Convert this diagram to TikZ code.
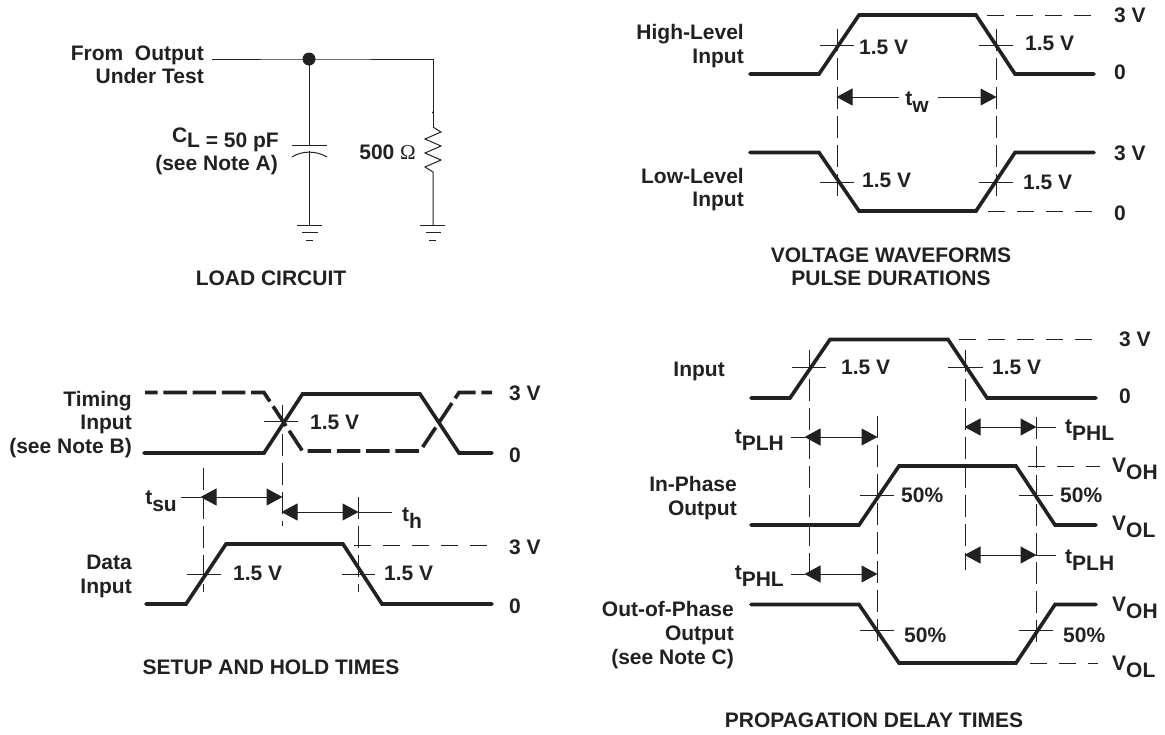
\documentclass[tikz,border=0pt]{standalone}
\usepackage{fontspec}
\setmainfont{Liberation Sans}
\newfontfamily\omegafont{Liberation Serif}
\usetikzlibrary{arrows.meta}
\definecolor{inkc}{gray}{0.13}
\newcommand{\lowered}[2]{#1\raisebox{-7pt}{#2}}
\tikzset{
  lab/.style={inner sep=0pt,text height=15pt,text depth=0pt,text=inkc,font=\fontsize{21}{21}\selectfont\bfseries},
  wave/.style={line width=3.6pt,draw=inkc,line join=miter,line cap=round},
  wavedash/.style={wave,line cap=butt,dash pattern=on 23.5pt off 5.8pt,dash phase=11pt},
  thin line/.style={line width=1pt,draw=inkc},
  guide/.style={line width=0.9pt,draw=inkc,dash pattern=on 22pt off 7pt},
  level/.style={line width=0.9pt,draw=inkc,dash pattern=on 17pt off 12pt},
  span/.style={line width=1pt,draw=inkc,{Triangle[length=16pt,width=17pt]}-{Triangle[length=16pt,width=17pt]},shorten <=-0.5pt,shorten >=-0.5pt}
}
\begin{document}
\begin{tikzpicture}[x=1pt,y=-1pt]
  \useasboundingbox (0,0) rectangle (1165,734);
  % load circuit
  \coordinate (wirein) at (212,59);
  \coordinate (junction) at (309,59);
  \coordinate (corner) at (433,59);
  \coordinate (rtop) at (433,127);
  \coordinate (rbot) at (433,172);
  \coordinate (gndr) at (433,225);
  \coordinate (platea) at (309,145);
  \coordinate (plateb) at (309,151);
  \coordinate (gndc) at (309,225);
  \draw[thin line] (wirein) -- (junction) -- (corner) -- (rtop);
  \draw[thin line] (junction) -- (platea);
  \draw[thin line] (plateb) -- (gndc);
  \draw[thin line] (292,145) -- (327,145);
  \draw[thin line] (292,157) .. controls (302,150.5) and (316,150.5) .. (327,157);
  \draw[thin line] (rtop) -- (441,132) -- (425,139) -- (441,146) -- (425,153) -- (441,160) -- (425,167) -- (rbot) -- (gndr);
  \draw[fill=inkc,draw=none] (junction) circle (6.5);
  \draw[fill=inkc,draw=none] (433,112.5) circle (1.2);
  % grounds
  \draw[thin line] (297,225) -- (322,225);
  \draw[thin line] (302,232.5) -- (318,232.5);
  \draw[thin line] (306,240) -- (313,240);
  \draw[thin line] (420,225) -- (445,225);
  \draw[thin line] (426,232.5) -- (441,232.5);
  \draw[thin line] (429,240) -- (436,240);
  \node[lab,anchor=east] (fromlab) at (204,53) {From\ \ Output};
  \node[lab,anchor=east] (undertest) at (204,76) {Under Test};
  \node[lab,anchor=east] (cload) at (279,135) {\raisebox{0pt}{C}\raisebox{-5pt}{L = 50 pF}};
  \node[lab,anchor=east] (noteA) at (278,163) {(see Note A)};
  \node[lab,anchor=east] (ohms) at (416,152) {500 {\omegafont\mdseries Ω}};
  \node[lab] (loadtitle) at (271,278) {LOAD CIRCUIT};
  % pulse durations
  \draw[wave] (750,74) -- (819,74) -- (859,15) -- (976,15) -- (1015,74) -- (1094,74);
  \draw[wave] (750,152.5) -- (819,152.5) -- (859,211) -- (976,211) -- (1015,152.5) -- (1094,152.5);
  \coordinate (wleft) at (837,97);
  \coordinate (wright) at (996,97);
  \draw[guide] (837,29) -- (837,198);
  \draw[guide] (996,29) -- (996,198);
  \draw[level] (987,15) -- (1096,15);
  \draw[level] (988,211) -- (1098,211);
  \draw[thin line] (820,45) -- (854,45);
  \draw[thin line] (979,45) -- (1013,45);
  \draw[thin line] (820,182) -- (854,182);
  \draw[thin line] (979,182) -- (1013,182);
  \node[lab] (wlab) at (917,98) {\lowered{t}{w}};
  \coordinate (wa) at (898,97);
  \coordinate (wb) at (938,97);
  \draw[span,-{Triangle[length=16pt,width=17pt]}] (wa) -- (wleft);
  \draw[span,-{Triangle[length=16pt,width=17pt]}] (wb) -- (wright);
  \node[lab,anchor=east] (highlab) at (744,32) {High-Level};
  \node[lab,anchor=east] (highin) at (744,56) {Input};
  \node[lab,anchor=east] (lowlab) at (744,176) {Low-Level};
  \node[lab,anchor=east] (lowin) at (744,199) {Input};
  \node[lab,anchor=west] (wa15) at (859,47) {1.5 V};
  \node[lab,anchor=west] (wb15) at (1025,43) {1.5 V};
  \node[lab,anchor=west] (wc15) at (862,180) {1.5 V};
  \node[lab,anchor=west] (wd15) at (1023,182) {1.5 V};
  \node[lab,anchor=west] (wa3) at (1114,15) {3 V};
  \node[lab,anchor=west] (wa0) at (1114,72) {0};
  \node[lab,anchor=west] (wb3) at (1114,153) {3 V};
  \node[lab,anchor=west] (wb0) at (1114,213) {0};
  \node[lab] (volt) at (891,255) {VOLTAGE WAVEFORMS};
  \node[lab] (pulsedur) at (891,278) {PULSE DURATIONS};
  % setup and hold
  \draw[wave] (144,453) -- (264,453) -- (302.5,394) -- (420,394) -- (459,453) -- (492,453);
  \draw[wavedash] (145,392.5) -- (264,392.5) -- (302.5,451) -- (420,451) -- (459,392.5) -- (492,392.5);
  \draw[guide] (282,405) -- (282,526);
  \draw[guide] (203,468) -- (203,592);
  \draw[guide] (358,497) -- (358,592);
  \draw[level] (354,545) -- (489,545);
  \draw[thin line] (264,421.5) -- (298,421.5);
  \draw[thin line] (187,574) -- (221,574);
  \draw[thin line] (342,574) -- (375,574);
  \coordinate (sua) at (201,497);
  \coordinate (sub) at (282,497);
  \coordinate (ha) at (282,512);
  \coordinate (hb) at (358,512);
  \draw[span] (sua) -- (sub);
  \draw[span] (ha) -- (hb);
  \node[lab,anchor=east] (sulab) at (177,497) {\lowered{t}{su}};
  \node[lab,anchor=west] (hlab) at (402,514) {\lowered{t}{h}};
  \draw[thin line] (sulab.east) ++(4,0) -- (sua);
  \draw[thin line] (hb) -- (392,512);
  \draw[wave] (146,604) -- (186,604) -- (226,544) -- (343,544) -- (382,604) -- (492,604);
  \node[lab,anchor=east] (timing) at (132,399) {Timing};
  \node[lab,anchor=east] (timingin) at (132,422) {Input};
  \node[lab,anchor=east] (noteB) at (132,446) {(see Note B)};
  \node[lab,anchor=east] (datalab) at (132,562) {Data};
  \node[lab,anchor=east] (datain) at (132,586) {Input};
  \node[lab,anchor=west] (sa15) at (310,422) {1.5 V};
  \node[lab,anchor=west] (sb15) at (233,573) {1.5 V};
  \node[lab,anchor=west] (sc15) at (384,573) {1.5 V};
  \node[lab,anchor=west] (sa3) at (509,393) {3 V};
  \node[lab,anchor=west] (sa0) at (509,455) {0};
  \node[lab,anchor=west] (sb3) at (509,547) {3 V};
  \node[lab,anchor=west] (sb0) at (509,606) {0};
  \node[lab] (setuptitle) at (271,667) {SETUP AND HOLD TIMES};
  % propagation delay
  \draw[wave] (751,398) -- (790,398) -- (830,339.5) -- (948,339.5) -- (987,398) -- (1096,398);
  \draw[wave] (751,525) -- (859,525) -- (899,466) -- (1016,466) -- (1055,525) -- (1096,525);
  \draw[wave] (751,604.5) -- (859,604.5) -- (899,663) -- (1016,663) -- (1055,604.5) -- (1096,604.5);
  \draw[guide] (809,350) -- (809,582);
  \draw[guide] (965,350) -- (965,570);
  \draw[guide] (877,416) -- (877,648);
  \draw[guide] (1036,417) -- (1036,648);
  \draw[level] (959,339.5) -- (1098,339.5);
  \draw[level] (1028,466) -- (1100,466);
  \draw[level] (1030,663) -- (1098,663);
  \draw[thin line] (792,367.5) -- (826,367.5);
  \draw[thin line] (948,367.5) -- (983,367.5);
  \draw[thin line] (860,495.5) -- (894,495.5);
  \draw[thin line] (1019,495.5) -- (1053,495.5);
  \draw[thin line] (860,630.5) -- (894,630.5);
  \draw[thin line] (1019,630.5) -- (1053,630.5);
  \coordinate (plha) at (805,437);
  \coordinate (plhb) at (877,437);
  \coordinate (phla) at (965,427);
  \coordinate (phlb) at (1036,427);
  \coordinate (phlc) at (805,574);
  \coordinate (phld) at (877,574);
  \coordinate (plhc) at (965,555);
  \coordinate (plhd) at (1036,555);
  \draw[span] (plha) -- (plhb);
  \draw[span] (phla) -- (phlb);
  \draw[span] (phlc) -- (phld);
  \draw[span] (plhc) -- (plhd);
  \node[lab,anchor=east] (plhlab) at (784,436) {\lowered{t}{PLH}};
  \node[lab,anchor=west] (phllab) at (1065,426) {\lowered{t}{PHL}};
  \node[lab,anchor=east] (phlalt) at (784,572) {\lowered{t}{PHL}};
  \node[lab,anchor=west] (plhalt) at (1065,556) {\lowered{t}{PLH}};
  \draw[thin line] (791,437) -- (plha);
  \draw[thin line] (phlb) -- (1056,427);
  \draw[thin line] (791,574) -- (phlc);
  \draw[thin line] (plhd) -- (1056,555);
  \node[lab,anchor=east] (inputlab) at (725,369) {Input};
  \node[lab,anchor=east] (inphase) at (737,484) {In-Phase};
  \node[lab,anchor=east] (inout) at (737,508) {Output};
  \node[lab,anchor=east] (outphase) at (734,609) {Out-of-Phase};
  \node[lab,anchor=east] (outout) at (734,633) {Output};
  \node[lab,anchor=east] (noteC) at (734,657) {(see Note C)};
  \node[lab,anchor=west] (pa15) at (841,367) {1.5 V};
  \node[lab,anchor=west] (pb15) at (992,367) {1.5 V};
  \node[lab,anchor=west] (pa50) at (901,495) {50\%};
  \node[lab,anchor=west] (pb50) at (1060,495) {50\%};
  \node[lab,anchor=west] (pc50) at (904,635) {50\%};
  \node[lab,anchor=west] (pd50) at (1063,635) {50\%};
  \node[lab,anchor=west] (pa3) at (1119,339) {3 V};
  \node[lab,anchor=west] (pa0) at (1119,396) {0};
  \node[lab,anchor=west] (voha) at (1112,465) {\lowered{V}{OH}};
  \node[lab,anchor=west] (vola) at (1112,523) {\lowered{V}{OL}};
  \node[lab,anchor=west] (vohb) at (1112,604) {\lowered{V}{OH}};
  \node[lab,anchor=west] (volb) at (1112,663) {\lowered{V}{OL}};
  \node[lab] (proptitle) at (874,720) {PROPAGATION DELAY TIMES};
\end{tikzpicture}
\end{document}
